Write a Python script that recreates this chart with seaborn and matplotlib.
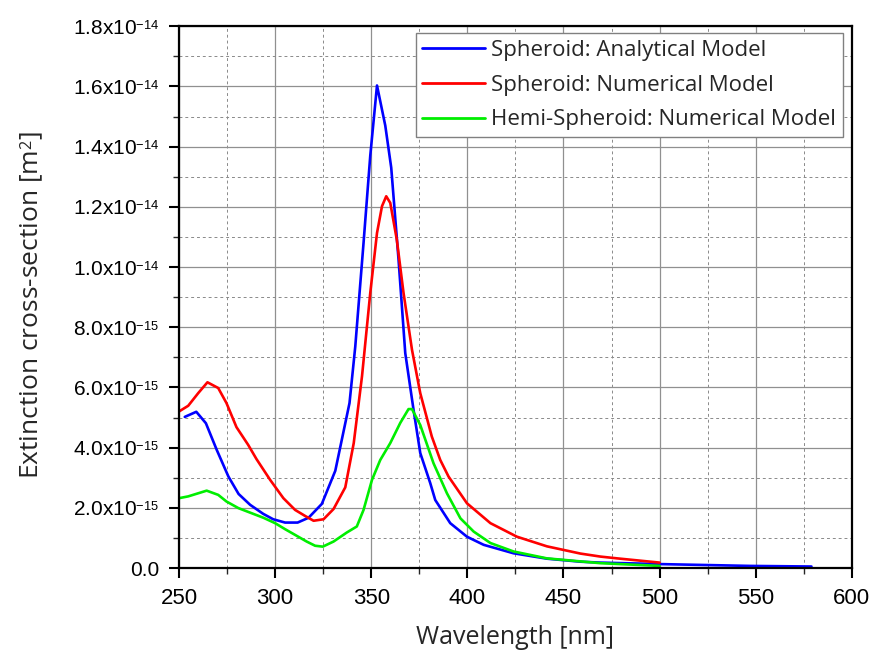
import numpy as np
import pandas as pd
import matplotlib
matplotlib.use("Agg")
import matplotlib.pyplot as plt
import seaborn as sns
from matplotlib.ticker import MultipleLocator, FuncFormatter

try:
    import matplotlib._mathtext as _mt
    _mt.SHRINK_FACTOR = 0.62
    _mt.FontConstantsBase.sup1 = 0.45
except Exception:
    pass

# Spheroid: Analytical Model (wavelength nm, extinction in 1e-15 m^2)
wl_analytical = [253, 259, 264, 269.6, 275.7, 281, 287, 293.8, 299, 305.2, 311.7, 317.4, 324.3, 331.3,
                 338.7, 341.7, 346, 349.5, 353, 357.3, 360.4, 364.2, 367.7, 372, 375.5, 380.7, 383.3,
                 391.1, 399.8, 408.5, 424, 441.4, 458.8, 469, 500.5, 547, 579]
ext_analytical = [5.02, 5.19, 4.81, 3.93, 3.04, 2.46, 2.10, 1.80, 1.62, 1.51, 1.51, 1.67, 2.13, 3.23,
                  5.48, 7.36, 10.8, 13.7, 16.03, 14.7, 13.3, 10.25, 7.14, 5.26, 3.82, 2.82, 2.26,
                  1.49, 1.04, 0.77, 0.49, 0.31, 0.21, 0.18, 0.13, 0.07, 0.05]

# Spheroid: Numerical Model
wl_numerical = [250, 254.8, 260, 264.8, 270.4, 274.7, 279.9, 286, 290.3, 297.4, 304.3, 310.4, 315.6, 320,
                325.2, 330.4, 336.5, 340.9, 345.2, 349.5, 353, 355.6, 357.8, 359.9, 363.3, 366.8,
                371.2, 375.5, 381.5, 385.9, 390.2, 399.8, 412, 425.8, 441.4, 458.8, 469.2, 478, 500]
ext_numerical = [5.2, 5.39, 5.81, 6.17, 5.98, 5.48, 4.68, 4.09, 3.62, 2.93, 2.32, 1.93, 1.73, 1.57,
                 1.62, 1.96, 2.68, 4.15, 6.37, 9.14, 11.13, 12.02, 12.35, 12.13, 10.91, 9.14,
                 7.25, 5.81, 4.37, 3.59, 3.04, 2.15, 1.49, 1.04, 0.72, 0.48, 0.38, 0.32, 0.18]

# Hemi-Spheroid: Numerical Model
wl_hemi = [250, 254.8, 264.4, 270.4, 274.7, 280.9, 287, 293.9, 300, 305.2, 310.4, 316.4, 320.8, 324.8,
           330.4, 337.3, 342.5, 346, 350.4, 354.7, 359.9, 365.1, 369.4, 371.2, 375.5, 382.4,
           389.4, 396.4, 403.3, 412, 424, 441.4, 469.3, 500]
ext_hemi = [2.32, 2.38, 2.57, 2.43, 2.21, 1.99, 1.84, 1.67, 1.49, 1.29, 1.10, 0.88, 0.74, 0.71,
            0.88, 1.18, 1.38, 1.93, 2.93, 3.59, 4.15, 4.82, 5.28, 5.28, 4.75, 3.48,
            2.48, 1.65, 1.21, 0.83, 0.55, 0.32, 0.16, 0.07]

labels = ["Spheroid: Analytical Model", "Spheroid: Numerical Model", "Hemi-Spheroid: Numerical Model"]
colors = ["#0000ff", "#ff0000", "#00ee00"]

frames = []
for lab, wl, ex in zip(labels, [wl_analytical, wl_numerical, wl_hemi],
                       [ext_analytical, ext_numerical, ext_hemi]):
    frames.append(pd.DataFrame({"Wavelength": wl, "Extinction": np.array(ex) * 1e-15, "Model": lab}))
df = pd.concat(frames, ignore_index=True)

sns.set_style("white")
plt.rcParams['font.family'] = ['Liberation Sans', 'DejaVu Sans']
plt.rcParams['mathtext.fontset'] = 'custom'
plt.rcParams['mathtext.rm'] = 'Liberation Sans'
plt.rcParams['mathtext.it'] = 'Liberation Sans:italic'
plt.rcParams['mathtext.bf'] = 'Liberation Sans:bold'

fig = plt.figure(figsize=(8.71, 6.55), dpi=100)
ax = fig.add_axes([0.2055, 0.1328, 0.978 - 0.2055, 0.960 - 0.1328])

sns.lineplot(data=df, x="Wavelength", y="Extinction", hue="Model", hue_order=labels,
             palette=colors, linewidth=1.9, sort=False, estimator=None, ax=ax)

ax.set_xlim(250, 600)
ax.set_ylim(0, 1.8e-14)
ax.xaxis.set_major_locator(MultipleLocator(50))
ax.xaxis.set_minor_locator(MultipleLocator(25))
ax.yaxis.set_major_locator(MultipleLocator(2e-15))
ax.yaxis.set_minor_locator(MultipleLocator(1e-15))

def yfmt(v, pos):
    if abs(v) < 1e-20:
        return "0.0"
    e = int(np.floor(np.log10(abs(v)) + 1e-9))
    m = v / 10**e
    return r"%.1fx10$^{\mathregular{%d}}$" % (m, e)

ax.yaxis.set_major_formatter(FuncFormatter(yfmt))

ax.grid(True, which='major', color='#909090', linestyle='-', linewidth=0.9)
ax.grid(True, which='minor', color='#8a8a8a', linestyle=(0, (3, 3)), linewidth=0.7)
ax.set_axisbelow(True)

for s in ax.spines.values():
    s.set_color('black')
    s.set_linewidth(1.6)

ax.tick_params(axis='both', which='major', direction='out', length=7.2, width=1.5,
               colors='black', bottom=True, left=True)
ax.tick_params(axis='x', which='major', pad=7, labelsize=16)
ax.tick_params(axis='y', which='major', pad=7, labelsize=15)
ax.tick_params(axis='both', which='minor', direction='out', length=4.5, width=1.0,
               bottom=True, left=True)

ax.set_xlabel("Wavelength [nm]", fontsize=18, family=['Open Sans', 'DejaVu Sans'], labelpad=12)
ax.set_ylabel(r"Extinction cross-section [m$^{\mathregular{2}}$]", fontsize=19,
              family=['Open Sans', 'DejaVu Sans'])
ax.yaxis.set_label_coords(-0.198, 0.485)

leg = ax.legend(loc='upper right', bbox_to_anchor=(0.9866, 0.987), frameon=True, fancybox=False,
                edgecolor='#808080', framealpha=1, borderpad=0.3, handlelength=2.8,
                handletextpad=0.3, labelspacing=0.62, borderaxespad=0,
                prop={'family': ['Open Sans', 'DejaVu Sans'], 'size': 16})
leg.get_frame().set_linewidth(1.0)
for line in leg.get_lines():
    line.set_linewidth(2.0)

fig.savefig("out.png", dpi=100)
